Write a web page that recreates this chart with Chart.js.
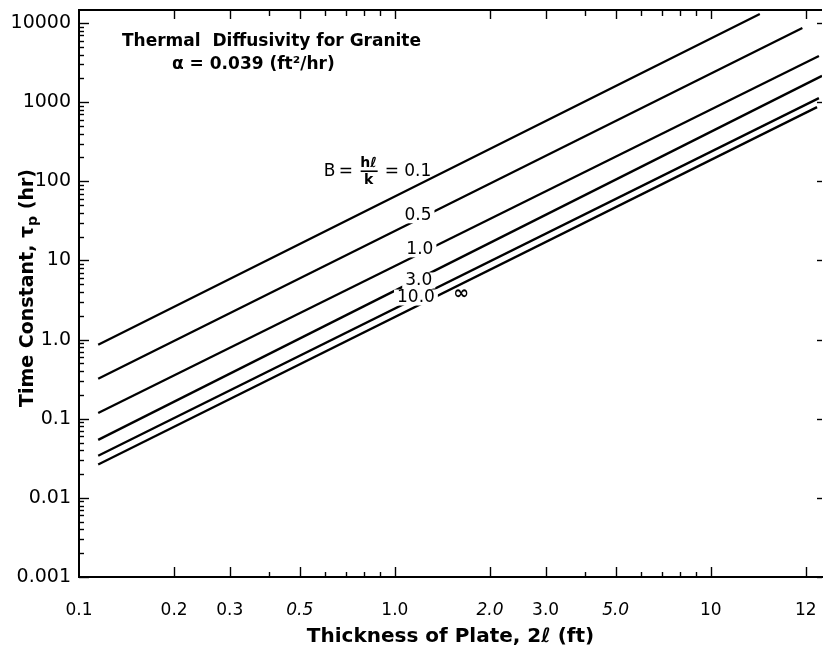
<!DOCTYPE html>
<html>
<head>
<meta charset="utf-8">
<script src="https://cdn.jsdelivr.net/npm/chart.js@4.4.1/dist/chart.umd.min.js"></script>
<style>
  html, body { margin: 0; padding: 0; background: #fff; }
</style>
</head>
<body>
<canvas id="granite" width="824" height="660"></canvas>
<script>
// Biot numbers of the curves, and the two ends of each straight line (log-log)
const biotNumbers = ["0.1", "0.5", "1.0", "3.0", "10.0", "\u221E"];
const thicknessStart = [0.115, 0.115, 0.115, 0.115, 0.115, 0.115];
const tauStart = [0.86, 0.32, 0.118, 0.054, 0.034, 0.0264];
const thicknessEnd = [14.3, 19.5, 22.0, 22.5, 22.0, 21.7];
const tauEnd = [13000, 8650, 3820, 2150, 1125, 865];

// axis ticks
const xTickValues = [0.1, 0.2, 0.3, 0.5, 1, 2, 3, 5, 10, 20];
const xTickText = ["0.1", "0.2", "0.3", "0.5", "1.0", "2.0", "3.0", "5.0", "10", "12"];
const xMinorValues = [0.4, 0.6, 0.7, 0.8, 0.9, 4, 6, 7, 8, 9];
const yTickValues = [0.001, 0.01, 0.1, 1, 10, 100, 1000, 10000];
const yTickText = ["0.001", "0.01", "0.1", "1.0", "10", "100", "1000", "10000"];

const FONT = "'DejaVu Sans', sans-serif";
const italicTicks = [3, 5, 7];

const datasets = biotNumbers.map((b, i) => ({
    label: "B = " + b,
    data: [
        { x: thicknessStart[i], y: tauStart[i] },
        { x: thicknessEnd[i], y: tauEnd[i] },
    ],
    borderColor: "#000",
    borderWidth: 2.3,
    pointRadius: 0,
    fill: false,
    tension: 0,
}));

// frame, inward tick marks, curve labels and the in-plot notes
const plateDecor = {
    id: "plateDecor",
    afterDatasetsDraw(chart, args, opts) {
        const { ctx, chartArea: a, scales } = chart;
        const xs = scales.x, ys = scales.y;
        ctx.save();
        ctx.strokeStyle = "#000";
        ctx.fillStyle = "#000";

        // top border
        ctx.lineWidth = 2;
        ctx.beginPath();
        ctx.moveTo(a.left, a.top);
        ctx.lineTo(a.right, a.top);
        ctx.stroke();

        ctx.lineWidth = 1.4;
        const tick = (x1, y1, x2, y2) => {
            ctx.beginPath();
            ctx.moveTo(x1, y1);
            ctx.lineTo(x2, y2);
            ctx.stroke();
        };
        // bottom and top ticks
        xTickValues.slice(1).forEach(v => {
            const px = Math.round(xs.getPixelForValue(v)) + 0.5;
            tick(px, a.bottom, px, a.bottom - 10);
            tick(px, a.top, px, a.top + 9);
        });
        xMinorValues.forEach(v => {
            const px = Math.round(xs.getPixelForValue(v)) + 0.5;
            tick(px, a.bottom, px, a.bottom - 5);
            tick(px, a.top, px, a.top + 6);
        });
        // left and right ticks
        yTickValues.forEach((v, i) => {
            const py = Math.round(ys.getPixelForValue(v)) + 0.5;
            tick(a.left, py, a.left + 10, py);
            tick(a.right, py, a.right - 5, py);
            if (i < yTickValues.length - 1) {
                for (let m = 2; m <= 9; m++) {
                    const q = Math.round(ys.getPixelForValue(v * m)) + 0.5;
                    tick(a.left, q, a.left + 5, q);
                }
            }
        });

        // curve labels sitting in breaks of the lines
        ctx.textAlign = "center";
        ctx.textBaseline = "middle";
        opts.curveLabels.forEach(l => {
            const px = xs.getPixelForValue(l.x);
            const py = ys.getPixelForValue(l.y);
            const text = biotNumbers[l.series];
            ctx.font = l.font;
            const w = ctx.measureText(text).width;
            if (l.gap) {
                ctx.fillStyle = "#fff";
                ctx.fillRect(px - w / 2 - 3, py - 8, w + 6, 16);
            }
            ctx.fillStyle = "#000";
            ctx.fillText(text, px, py);
        });

        // B = hl/k = 0.1
        const bx = xs.getPixelForValue(opts.biotNote.x);
        const by = ys.getPixelForValue(opts.biotNote.y);
        ctx.textAlign = "left";
        ctx.font = "17px " + FONT;
        ctx.fillText("B", bx, by);
        ctx.fillText("=", bx + 15, by);
        ctx.font = "bold 14px " + FONT;
        ctx.textAlign = "center";
        ctx.fillText("h\u2113", bx + 45, by - 8);
        ctx.fillText("k", bx + 45, by + 9);
        ctx.lineWidth = 1.6;
        tick(bx + 37, by, bx + 54, by);
        ctx.textAlign = "left";
        ctx.font = "17px " + FONT;
        ctx.fillText("= " + biotNumbers[0], bx + 61, by);

        // note on the material
        ctx.font = "bold 17px " + FONT;
        ctx.fillText("Thermal  Diffusivity for Granite", a.left + 43, a.top + 32);
        ctx.fillText("\u03B1 = 0.039 (ft\u00B2/hr)", a.left + 93, a.top + 55);

        // y-axis title with the subscript p
        ctx.translate(28, a.top + 278);
        ctx.rotate(-Math.PI / 2);
        const big = "bold 19px " + FONT, small = "bold 14px " + FONT;
        ctx.font = big;
        const p1 = "Time Constant, \u03C4", p3 = " (hr)";
        const w1 = ctx.measureText(p1).width, w3 = ctx.measureText(p3).width;
        ctx.font = small;
        const w2 = ctx.measureText("p").width;
        let x0 = -(w1 + w2 + w3) / 2;
        ctx.font = big;
        ctx.fillText(p1, x0, 0);
        ctx.font = small;
        ctx.fillText("p", x0 + w1, 5);
        ctx.font = big;
        ctx.fillText(p3, x0 + w1 + w2, 0);
        ctx.restore();
    },
};

const config = {
    type: "line",
    data: { datasets },
    options: {
        responsive: false,
        animation: false,
        layout: { padding: { top: 10, right: 2, left: 0, bottom: 0 } },
        plugins: {
            legend: { display: false },
            tooltip: { enabled: false },
            plateDecor: {
                curveLabels: [
                    { series: 1, x: 1.183, y: 37.2, font: "17px " + FONT, gap: true },
                    { series: 2, x: 1.20, y: 13.8, font: "17px " + FONT, gap: true },
                    { series: 3, x: 1.19, y: 5.58, font: "17px " + FONT, gap: true },
                    { series: 4, x: 1.166, y: 3.40, font: "17px " + FONT, gap: true },
                    { series: 5, x: 1.62, y: 3.72, font: "bold 19px " + FONT, gap: false },
                ],
                biotNote: { x: 0.595, y: 134 },
            },
        },
        scales: {
            x: {
                type: "logarithmic",
                min: 0.1,
                max: 22.5,
                grid: { display: false, drawTicks: false },
                border: { display: true, color: "#000", width: 2 },
                afterBuildTicks: s => { s.ticks = xTickValues.map(v => ({ value: v })); },
                afterFit: s => {
                    s.height = 83;
                    s.paddingLeft = 0;
                    s.paddingRight = 0;
                },
                ticks: {
                    autoSkip: false,
                    maxRotation: 0,
                    padding: 23,
                    color: "#000",
                    font: c => ({ family: FONT, size: 17, style: italicTicks.includes(c.index) ? "italic" : "normal" }),
                    callback: (v, i) => xTickText[i],
                },
                title: {
                    display: true,
                    text: "Thickness of Plate, 2\u2113 (ft)",
                    color: "#000",
                    font: { family: FONT, size: 20, weight: "bold" },
                    padding: { top: 0, bottom: 11 },
                },
            },
            y: {
                type: "logarithmic",
                min: 0.001,
                max: 14600,
                grid: { display: false, drawTicks: false },
                border: { display: true, color: "#000", width: 2 },
                afterBuildTicks: s => { s.ticks = yTickValues.map(v => ({ value: v })); },
                afterFit: s => {
                    s.width = 79;
                    s.paddingTop = 0;
                    s.paddingBottom = 0;
                },
                ticks: {
                    autoSkip: false,
                    padding: 8,
                    color: "#000",
                    font: { family: FONT, size: 19 },
                    callback: (v, i) => yTickText[i],
                },
            },
        },
    },
    plugins: [plateDecor],
};

const plateChart = new Chart(document.getElementById("granite"), config);
</script>
</body>
</html>
